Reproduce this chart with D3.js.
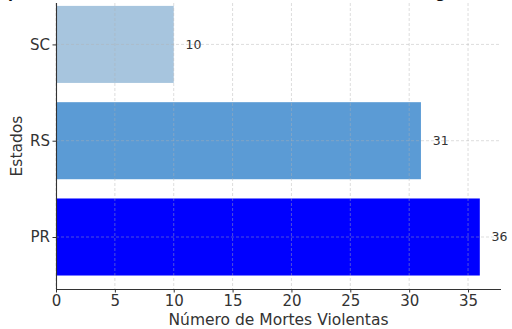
<!DOCTYPE html>
<html><head><meta charset="utf-8">
<script src="https://cdn.jsdelivr.net/npm/d3@7"></script>
<style>body{margin:0;background:#fff}svg{display:block}text{font-family:"DejaVu Sans",sans-serif}</style>
</head><body>
<script>
const states = ["PR", "RS", "SC"];
const deaths = [36, 31, 10];
const barColors = ["#0000ff", "#5b9bd5", "#a7c5de"];
const xTicks = [0, 5, 10, 15, 20, 25, 30, 35];
const title = "Comparativo de Mortes Violentas entre os Estados da Região Sul";

const W = 512, H = 329;
const m = {left: 56, right: 11, top: 3, bottom: 40};
const svg = d3.select("body").append("svg").attr("width", W).attr("height", H);

const x = d3.scaleLinear().domain([0, 37.8]).range([m.left, W - m.right]);
const y = d3.scaleLinear().domain([-0.54, 2.43]).range([H - m.bottom, m.top]);
const bh = y(0) - y(0.8);

const data = states.map((s, i) => ({s, v: deaths[i], c: barColors[i], i}));

svg.selectAll("rect.bar").data(data).enter().append("rect")
  .attr("x", x(0)).attr("y", d => y(d.i) - bh / 2)
  .attr("width", d => x(d.v) - x(0)).attr("height", bh)
  .attr("fill", d => d.c);

const g = svg.append("g").attr("stroke", "#b0b0b0").attr("stroke-opacity", 0.55)
  .attr("stroke-dasharray", "3,2").attr("stroke-width", 0.8);
xTicks.forEach(t => g.append("line").attr("x1", x(t)).attr("x2", x(t)).attr("y1", m.top).attr("y2", H - m.bottom));
data.forEach(d => g.append("line").attr("x1", m.left).attr("x2", W - m.right).attr("y1", y(d.i)).attr("y2", y(d.i)));

const xa = svg.append("g").attr("transform", `translate(0,${H - m.bottom})`)
  .call(d3.axisBottom(x).tickValues(xTicks).tickSize(3.5).tickPadding(2.5));
const ya = svg.append("g").attr("transform", `translate(${m.left},0)`)
  .call(d3.axisLeft(y).tickValues([0, 1, 2]).tickFormat(i => states[i]).tickSize(3.5).tickPadding(2.5));
[xa, ya].forEach(a => {
  a.select(".domain").attr("stroke", "#333").attr("stroke-width", 1.1);
  a.selectAll(".tick line").attr("stroke", "#333");
  a.selectAll(".tick text").attr("fill", "#333").attr("font-size", 15).style("font-family", "DejaVu Sans");
});
ya.select(".domain").attr("d", `M0.5,${m.top}V${H - m.bottom}`);
xa.select(".domain").attr("d", `M${m.left},0.5H${W - m.right}`);

svg.selectAll("text.val").data(data).enter().append("text")
  .attr("x", d => x(d.v + 1)).attr("y", d => y(d.i)).attr("dy", "0.35em")
  .attr("font-size", 12.5).attr("fill", "#333").text(d => d.v);

svg.append("text").attr("x", (m.left + W - m.right) / 2).attr("y", 325)
  .attr("text-anchor", "middle").attr("font-size", 15.5).attr("fill", "#333").text("Número de Mortes Violentas");
svg.append("text").attr("transform", `translate(22,${(m.top + H - m.bottom) / 2}) rotate(-90)`)
  .attr("text-anchor", "middle").attr("font-size", 15.5).attr("fill", "#333").text("Estados");

// title: mostly cut off at the top, only descenders visible (as in the reference)
const tt = svg.append("text").attr("x", 0).attr("y", -2)
  .attr("font-size", 14).attr("font-weight", "bold").attr("fill", "#111").text(title);
const node = tt.node();
const ip = title.indexOf("p"), ig = title.indexOf("g");
let px = node.getStartPositionOfChar(ip).x, gx = node.getStartPositionOfChar(ig).x;
const fs = 14 * 428 / (gx - px);
tt.attr("font-size", fs);
px = node.getStartPositionOfChar(ip).x;
tt.attr("x", 8 - px);
</script>
</body></html>
